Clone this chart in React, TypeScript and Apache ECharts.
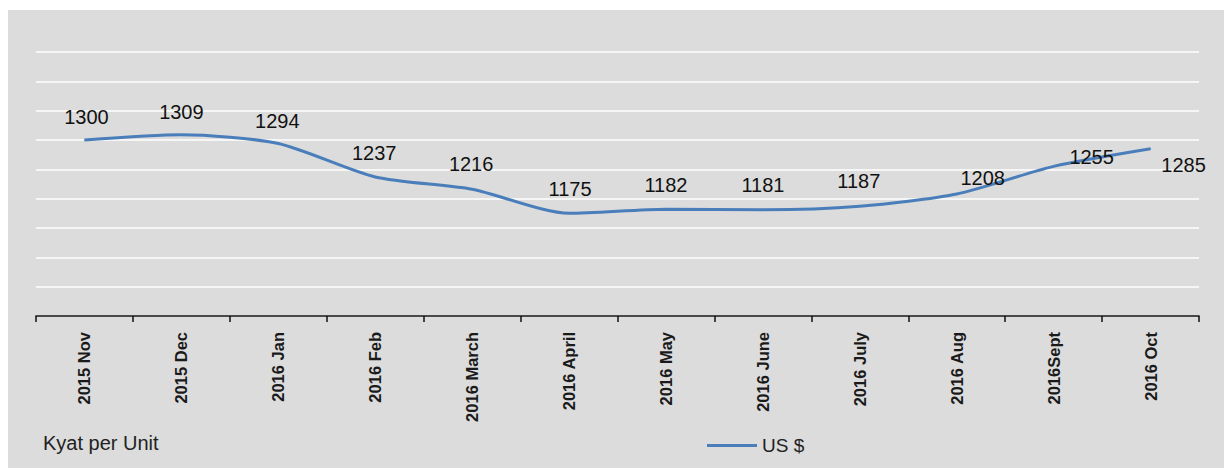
import React, { useEffect, useRef } from "react";
import * as echarts from "echarts";

const categories = [
  "2015 Nov", "2015 Dec", "2016 Jan", "2016 Feb", "2016 March", "2016 April",
  "2016 May", "2016 June", "2016 July", "2016 Aug", "2016Sept", "2016 Oct",
];
const usd = [1300, 1309, 1294, 1237, 1216, 1175, 1182, 1181, 1187, 1208, 1255, 1285];
const seriesName = "US $";
const unitNote = "Kyat per Unit";
const yMin = 1000;
const yMax = 1450;
const yInterval = 50;

// label placement (style only): offsets of the value label centre from each point
const labelOffsets: [number, number][] = [
  [2, -23], [0, -23], [-1, -23], [-1, -24], [-1, -25], [1, -24],
  [0, -24], [0, -25], [-1, -25], [26, -16], [38, -9], [33, 16],
];

export default function App() {
  const ref = useRef<HTMLDivElement>(null);
  useEffect(() => {
    if (!ref.current) return;
    const chart = echarts.init(ref.current, null, { renderer: "svg" });
    chart.setOption({
      animation: false,
      backgroundColor: "#dcdcdc",
      grid: { left: 28, right: 25, top: 42, bottom: 152, containLabel: false },
      xAxis: {
        type: "category",
        data: categories,
        boundaryGap: true,
        axisLine: { show: true, lineStyle: { color: "#111", width: 1.5 } },
        axisTick: { show: true, length: 6, lineStyle: { color: "#111", width: 1.5 } },
        axisLabel: {
          rotate: 90,
          margin: 16,
          fontFamily: "'Liberation Sans', Arial, sans-serif",
          fontWeight: "bold",
          fontSize: 16.5,
          color: "#1a1a1a",
          interval: 0,
        },
        splitLine: { show: false },
      },
      yAxis: {
        type: "value",
        min: yMin,
        max: yMax,
        interval: yInterval,
        axisLine: { show: false },
        axisTick: { show: false },
        axisLabel: { show: false },
        splitLine: { show: true, lineStyle: { color: "#ffffff", width: 1.5 } },
      },
      legend: {
        left: 694,
        top: 421,
        itemWidth: 50,
        itemHeight: 3,
        itemGap: 10,
        icon: "rect",
        textStyle: { fontFamily: "'Liberation Sans', Arial, sans-serif", fontSize: 19, color: "#222" },
        data: [seriesName],
      },
      graphic: [
        {
          type: "text",
          left: 35,
          top: 423,
          style: {
            text: unitNote,
            font: "20px 'Liberation Sans', Arial, sans-serif",
            fill: "#222",
          },
        },
      ],
      series: [
        {
          name: seriesName,
          type: "line",
          smooth: 0.25,
          symbol: "circle",
          symbolSize: 1,
          showSymbol: true,
          color: "#4a7ebb",
          lineStyle: { color: "#4a7ebb", width: 3 },
          itemStyle: { color: "#4a7ebb" },
          data: usd.map((v, i) => ({
            value: v,
            label: {
              show: true,
              position: "inside",
              offset: labelOffsets[i],
              fontFamily: "'Liberation Sans', Arial, sans-serif",
              fontSize: 20,
              color: "#111",
            },
          })),
        },
      ],
    });
    return () => chart.dispose();
  }, []);
  return (
    <div
      ref={ref}
      style={{ position: "absolute", left: 8, top: 10, width: 1216, height: 458 }}
    />
  );
}
